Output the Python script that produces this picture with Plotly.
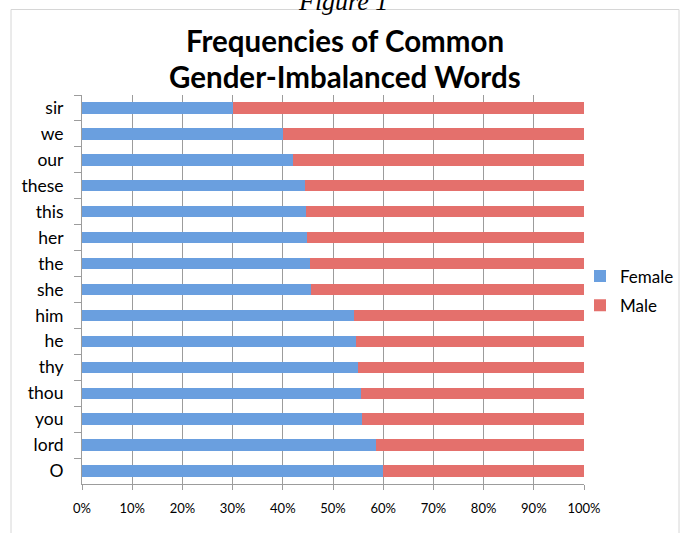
import plotly.graph_objects as go

words = ["sir", "we", "our", "these", "this", "her", "the", "she",
         "him", "he", "thy", "thou", "you", "lord", "O"]
female = [30.0, 40.0, 42.0, 44.4, 44.6, 44.8, 45.5, 45.7,
          54.1, 54.5, 55.0, 55.5, 55.8, 58.6, 60.0]
male = [70.0, 60.0, 58.0, 55.6, 55.4, 55.2, 54.5, 54.3,
        45.9, 45.5, 45.0, 44.5, 44.2, 41.4, 40.0]
x_ticks = [0, 10, 20, 30, 40, 50, 60, 70, 80, 90, 100]
x_labels = [f"{v}%" for v in x_ticks]

FONT = "Lato, 'Open Sans', sans-serif"

fig = go.Figure()
fig.add_trace(go.Bar(y=words, x=female, name="Female", orientation="h",
                     legendgroup="f",
                     marker=dict(color="#6a9fdf", line=dict(width=0))))
fig.add_trace(go.Bar(y=words, x=male, name="Male", orientation="h",
                     legendgroup="m",
                     marker=dict(color="#e4706c", line=dict(width=0))))

L, R, T, B = 82, 102, 95, 49
W, H = 686, 533
pw, ph = W - L - R, H - T - B

def px(x):
    return (x - L) / pw

def py(y):
    return (H - B - y) / ph

fig.update_layout(
    width=W, height=H,
    margin=dict(l=L, r=R, t=T, b=B, pad=0, autoexpand=False),
    barmode="stack", bargap=0.56,
    plot_bgcolor="white", paper_bgcolor="white",
    font=dict(family=FONT, color="black"),
    showlegend=True,
    legend=dict(x=px(580), y=py(291), xanchor="left", yanchor="middle",
                font=dict(size=17, family=FONT), tracegroupgap=4,
                traceorder="grouped", itemwidth=30,
                bgcolor="rgba(0,0,0,0)"),
    xaxis=dict(range=[0, 100], tickvals=x_ticks, ticktext=x_labels,
               showgrid=True, gridcolor="#9c9c9c", gridwidth=1,
               showline=True, linecolor="#9c9c9c", linewidth=1,
               ticks="outside", ticklen=5, tickcolor="#9c9c9c",
               tickfont=dict(size=13, family=FONT),
               ticklabelstandoff=7, zeroline=False, fixedrange=True),
    yaxis=dict(categoryorder="array", categoryarray=words,
               autorange="reversed", showgrid=False,
               showline=True, linecolor="#9c9c9c", linewidth=1,
               ticks="outside", tickson="boundaries", ticklen=7,
               tickcolor="#9c9c9c",
               tickfont=dict(size=17.5, family=FONT),
               ticklabelstandoff=14, fixedrange=True),
    shapes=[dict(type="rect", xref="paper", yref="paper",
                 x0=px(11), x1=px(679), y0=py(545), y1=py(9.5),
                 line=dict(color="#d6d6d6", width=1), layer="below")],
    annotations=[
        dict(text="Frequencies of Common", xref="paper", yref="paper",
             x=px(345), y=py(41), xanchor="center", yanchor="middle",
             showarrow=False, font=dict(size=29.5, family=FONT, color="black", weight="bold")),
        dict(text="Gender-Imbalanced Words", xref="paper", yref="paper",
             x=px(345), y=py(76), xanchor="center", yanchor="middle",
             showarrow=False, font=dict(size=29.5, family=FONT, color="black", weight="bold")),
        dict(text="<i>Figure 1</i>", xref="paper", yref="paper",
             x=px(343), y=py(18), xanchor="center", yanchor="bottom",
             showarrow=False, font=dict(size=26, family="'Liberation Serif', serif", color="black")),
    ],
)

fig.write_html("out.html")
